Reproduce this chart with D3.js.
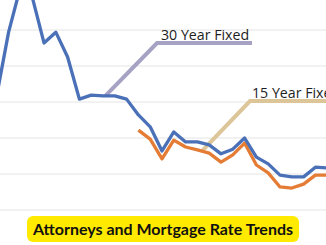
<!DOCTYPE html>
<html>
<head>
<meta charset="utf-8">
<script src="https://cdn.jsdelivr.net/npm/d3@7"></script>
<style>
  html, body { margin: 0; padding: 0; background: #fff; }
  svg { display: block; }
</style>
</head>
<body>
<div id="chart"></div>
<script>
// rate values (percent), one point per period
const periods = d3.range(29);
const rate30 = [5.19, 6.94, 8.19, 7.92, 6.64, 6.94, 6.25, 5.08, 5.19, 5.17, 5.17, 5.08, 4.64, 4.31,
  3.64, 4.17, 3.89, 3.89, 3.81, 3.56, 3.69, 4.0, 3.47, 3.28, 2.97, 2.92, 2.92, 3.19, 3.17];
const rate15 = [null, null, null, null, null, null, null, null, null, null, null, null, 4.22, 3.97,
  3.42, 3.94, 3.75, 3.67, 3.58, 3.33, 3.53, 3.86, 3.25, 3.03, 2.64, 2.61, 2.72, 2.97, 2.97];
const gridTicks = [2, 3, 4, 5, 6, 7];
const seriesLabels = ['30 Year Fixed', '15 Year Fixed'];
const title = 'Attorneys and Mortgage Rate Trends';

const width = 326;
const height = 245;

const svg = d3.select('#chart').append('svg')
  .attr('width', width)
  .attr('height', height);

const x = d3.scaleLinear().domain([0, 28]).range([-3.2, 327.2]);
const y = d3.scaleLinear().domain([2, 7]).range([210, 30]);

// gridlines
svg.append('g')
  .selectAll('line')
  .data(gridTicks)
  .join('line')
  .attr('x1', 0)
  .attr('x2', width)
  .attr('y1', d => y(d))
  .attr('y2', d => y(d))
  .attr('stroke', '#e4e4e4')
  .attr('stroke-width', 1);

// leader lines to the series labels
const leaders = [
  { pts: [[x(9.2), y(rate30[9])], [157, 43], [252, 43]], color: '#a6a2c4' },
  { pts: [[x(17.4), y(3.64)], [250, 101], [width, 101]], color: '#dcc699' }
];
svg.append('g')
  .selectAll('path')
  .data(leaders)
  .join('path')
  .attr('d', d => d3.line()(d.pts))
  .attr('fill', 'none')
  .attr('stroke', d => d.color)
  .attr('stroke-width', 4);

const line = d3.line()
  .defined(d => d[1] != null)
  .x(d => x(d[0]))
  .y(d => y(d[1]));

svg.append('path')
  .datum(periods.map(i => [i, rate15[i]]))
  .attr('d', line)
  .attr('fill', 'none')
  .attr('stroke', '#e57c35')
  .attr('stroke-width', 3.3)
  .attr('stroke-linejoin', 'round');

svg.append('path')
  .datum(periods.map(i => [i, rate30[i]]))
  .attr('d', line)
  .attr('fill', 'none')
  .attr('stroke', '#4a70b8')
  .attr('stroke-width', 3.3)
  .attr('stroke-linejoin', 'round');

svg.append('text')
  .attr('x', 161)
  .attr('y', 39.5)
  .attr('font-family', 'Open Sans, sans-serif')
  .attr('font-size', 14.2)
  .attr('fill', '#1e1e1e')
  .text(seriesLabels[0]);

svg.append('text')
  .attr('x', 252)
  .attr('y', 97.5)
  .attr('font-family', 'Open Sans, sans-serif')
  .attr('font-size', 14.2)
  .attr('fill', '#1e1e1e')
  .text(seriesLabels[1]);

// title badge
svg.append('rect')
  .attr('x', 27)
  .attr('y', 216)
  .attr('width', 272)
  .attr('height', 26)
  .attr('rx', 6)
  .attr('fill', '#ffea00');

svg.append('text')
  .attr('x', 163)
  .attr('y', 234.5)
  .attr('text-anchor', 'middle')
  .attr('font-family', 'Lato, sans-serif')
  .attr('font-weight', 'bold')
  .attr('font-size', 15.5)
  .attr('textLength', 260)
  .attr('lengthAdjust', 'spacingAndGlyphs')
  .attr('fill', '#111')
  .text(title);
</script>
</body>
</html>
